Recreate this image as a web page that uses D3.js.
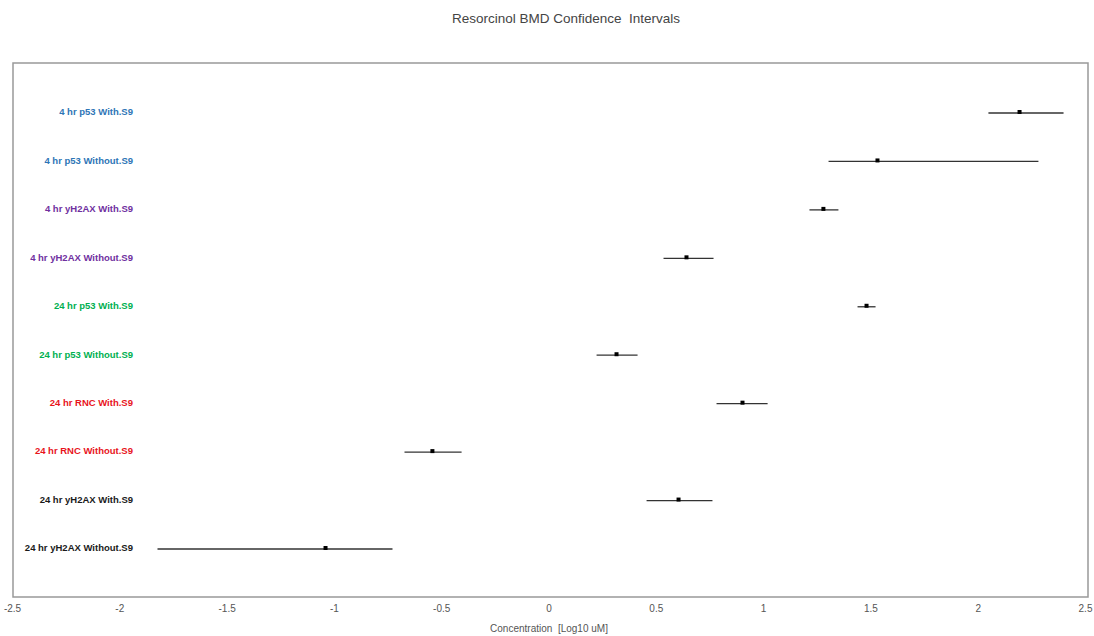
<!DOCTYPE html>
<html>
<head>
<meta charset="utf-8">
<script src="https://d3js.org/d3.v7.min.js"></script>
<style>
  body { margin: 0; background: #fff; }
  text { font-family: "Liberation Sans", "DejaVu Sans", sans-serif; white-space: pre; }
</style>
</head>
<body>
<svg id="chart" width="1094" height="636"></svg>
<script>
// categories, top to bottom
var labels = ["4 hr p53 With.S9", "4 hr p53 Without.S9", "4 hr yH2AX With.S9", "4 hr yH2AX Without.S9",
  "24 hr p53 With.S9", "24 hr p53 Without.S9", "24 hr RNC With.S9", "24 hr RNC Without.S9",
  "24 hr yH2AX With.S9", "24 hr yH2AX Without.S9"];
var groups = ["blue", "blue", "purple", "purple", "green", "green", "red", "red", "black", "black"];
var bmd   = [2.195, 1.533, 1.281, 0.643, 1.482, 0.317, 0.904, -0.541, 0.606, -1.039];
var lower = [2.05, 1.305, 1.216, 0.536, 1.440, 0.224, 0.783, -0.671, 0.457, -1.822];
var upper = [2.40, 2.283, 1.351, 0.769, 1.524, 0.415, 1.021, -0.405, 0.764, -0.727];
var xTicks = [-2.5, -2, -1.5, -1, -0.5, 0, 0.5, 1, 1.5, 2, 2.5];

var colors = {blue: "#2e75b6", purple: "#7030a0", green: "#00b050", red: "#e8141c", black: "#1a1a1a"};

var svg = d3.select("#chart"),
    margin = {top: 63, right: 7, bottom: 39, left: 13},
    width = +svg.attr("width") - margin.left - margin.right,
    height = +svg.attr("height") - margin.top - margin.bottom;

var x = d3.scaleLinear().domain([-2.5, 2.5]).range([12, 1085]);

var y = d3.scalePoint()
    .domain(labels)
    .range([112, 548]);

// title
svg.append("text")
    .attr("x", 566).attr("y", 23)
    .attr("text-anchor", "middle")
    .attr("font-size", 13.5)
    .attr("fill", "#444")
    .text("Resorcinol BMD Confidence  Intervals");

// plot border
svg.append("rect")
    .attr("x", margin.left).attr("y", margin.top)
    .attr("width", width + 1).attr("height", height)
    .attr("fill", "none")
    .attr("stroke", "#999")
    .attr("stroke-width", 1.5);

// x axis (labels only)
var xAxis = svg.append("g")
    .attr("transform", "translate(0," + (margin.top + height) + ")")
    .call(d3.axisBottom(x).tickValues(xTicks).tickSize(0).tickPadding(8).tickFormat(function(d) { return d; }));
xAxis.select(".domain").remove();
xAxis.selectAll("text")
    .attr("font-size", 10)
    .attr("fill", "#555")
    .style("font-family", "Liberation Sans, sans-serif");

svg.append("text")
    .attr("x", 549).attr("y", 632)
    .attr("text-anchor", "middle")
    .attr("font-size", 10)
    .attr("fill", "#555")
    .text("Concentration  [Log10 uM]");

// category labels
svg.append("g").selectAll("text")
    .data(labels)
    .enter().append("text")
      .attr("x", 133)
      .attr("y", function(d) { return y(d); })
      .attr("dy", "0.35em")
      .attr("text-anchor", "end")
      .attr("font-size", 9.5)
      .attr("font-weight", "bold")
      .attr("fill", function(d, i) { return colors[groups[i]]; })
      .text(function(d) { return d; });

// confidence intervals
svg.append("g").selectAll("line")
    .data(labels)
    .enter().append("line")
      .attr("x1", function(d, i) { return x(lower[i]); })
      .attr("x2", function(d, i) { return x(upper[i]); })
      .attr("y1", function(d) { return y(d) + 1; })
      .attr("y2", function(d) { return y(d) + 1; })
      .attr("stroke", "#333")
      .attr("stroke-width", 1.3);

// BMD points
svg.append("g").selectAll("rect")
    .data(labels)
    .enter().append("rect")
      .attr("x", function(d, i) { return x(bmd[i]) - 2; })
      .attr("y", function(d) { return y(d) - 2; })
      .attr("width", 4)
      .attr("height", 4)
      .attr("fill", "#000");
</script>
</body>
</html>
